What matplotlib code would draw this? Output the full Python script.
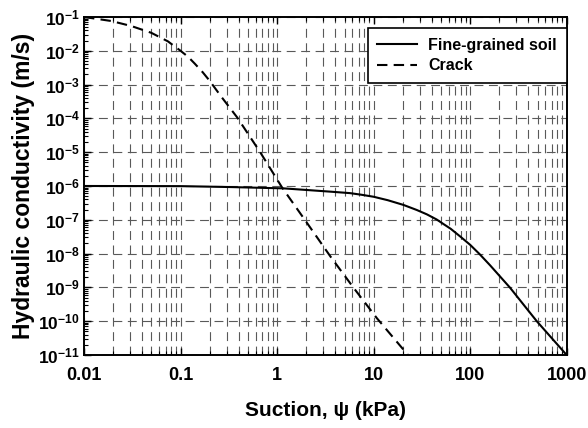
import math
import matplotlib
matplotlib.use("Agg")
from matplotlib import pyplot as plt
from matplotlib import ticker

# values (suction in kPa, conductivity in m/s)
soil_psi = [0.01, 0.1, 0.33, 1.17, 3.56, 5.7, 7.5, 10, 14, 20.4, 28, 35.6, 45, 52.5, 63,
            79.4, 100, 126, 161, 259, 490, 1000]
soil_k = [1.0e-6, 9.9e-7, 9.3e-7, 8.5e-7, 6.8e-7, 6.15e-7, 5.5e-7, 4.8e-7, 3.8e-7, 2.75e-7,
          1.95e-7, 1.45e-7, 1.02e-7, 7.6e-8, 5.4e-8, 3.16e-8, 1.82e-8, 9.5e-9, 4.5e-9,
          9.8e-10, 1.0e-10, 1.0e-11]

crack_psi = [0.01, 0.0192, 0.0309, 0.0498, 0.074, 0.1, 0.12, 0.14, 0.17, 0.2, 0.264,
             0.386, 0.671, 1.13, 2.04, 3.56, 6.19, 10.8, 21.2, 22.7]
crack_k = [1.0e-1, 7.6e-2, 5.4e-2, 3.4e-2, 1.9e-2, 1.0e-2, 6.6e-3, 4.2e-3, 2.3e-3,
           1.3e-3, 4.4e-4, 1.07e-4, 9.8e-6, 8.9e-7, 8.1e-8, 8.3e-9, 9.8e-10, 1.23e-10,
           1.26e-11, 1.0e-11]

series_labels = ["Fine-grained soil", "Crack"]
x_ticks = [0.01, 0.1, 1, 10, 100, 1000]
x_tick_labels = ["0.01", "0.1", "1", "10", "100", "1000"]

plt.rcParams['font.family'] = ['Liberation Sans', 'DejaVu Sans']
plt.rcParams['font.weight'] = 'bold'
plt.rcParams['mathtext.fontset'] = 'custom'
plt.rcParams['mathtext.rm'] = 'Liberation Sans:bold'
plt.rcParams['mathtext.bf'] = 'Liberation Sans:bold'
plt.rcParams['mathtext.it'] = 'Liberation Sans:bold'

fig = plt.figure(figsize=(5.88, 4.28), dpi=100)
ax = fig.add_axes([0.1429, 0.1706, 0.8208, 0.7897])

ax.plot(soil_psi, soil_k, color='black', lw=1.5, label=series_labels[0])
ax.plot(crack_psi, crack_k, color='black', lw=1.5, dashes=(5, 3), label=series_labels[1])

ax.set_xscale('log')
ax.set_yscale('log')
ax.set_xlim(0.01, 1000)
ax.set_ylim(1e-11, 1e-1)

ax.set_xticks(x_ticks)
ax.set_xticklabels(x_tick_labels)
ax.xaxis.set_minor_locator(ticker.LogLocator(base=10, subs=range(2, 10), numticks=20))
ax.xaxis.set_minor_formatter(ticker.NullFormatter())
ax.yaxis.set_major_locator(ticker.LogLocator(base=10, numticks=20))
ax.yaxis.set_minor_locator(ticker.LogLocator(base=10, subs=range(2, 10), numticks=20))
ax.yaxis.set_minor_formatter(ticker.NullFormatter())

def exp_fmt(v, pos):
    e = int(round(math.log10(v)))
    return r'$\mathbf{10^{%d}}$' % e

ax.yaxis.set_major_formatter(ticker.FuncFormatter(exp_fmt))

ax.grid(True, which='major', axis='both', color='0.35', lw=0.8, linestyle=(0, (8, 5)))
ax.grid(True, which='minor', axis='x', color='0.35', lw=0.8, linestyle=(0, (8, 5)))

ax.tick_params(which='both', direction='in', top=True, right=False)
ax.tick_params(axis='x', which='both', pad=9, labelsize=13)
ax.tick_params(axis='y', which='both', pad=3, labelsize=12.5)
ax.tick_params(which='major', length=5, width=1)
ax.tick_params(which='minor', length=3, width=0.8)
for s in ax.spines.values():
    s.set_linewidth(1.4)

ax.set_xlabel("Suction, ψ (kPa)", fontsize=15, fontweight='bold', labelpad=12)
ax.set_ylabel("Hydraulic conductivity (m/s)", fontsize=16.5, fontweight='bold', labelpad=2)

leg = ax.legend(loc='upper right', bbox_to_anchor=(1.0, 0.967), fontsize=11.5,
                handlelength=2.5, handletextpad=0.7, fancybox=False, framealpha=1,
                edgecolor='black', borderaxespad=0, borderpad=0.6, labelspacing=0.35)
leg.get_frame().set_linewidth(1.2)

fig.savefig("out.png", dpi=100)
